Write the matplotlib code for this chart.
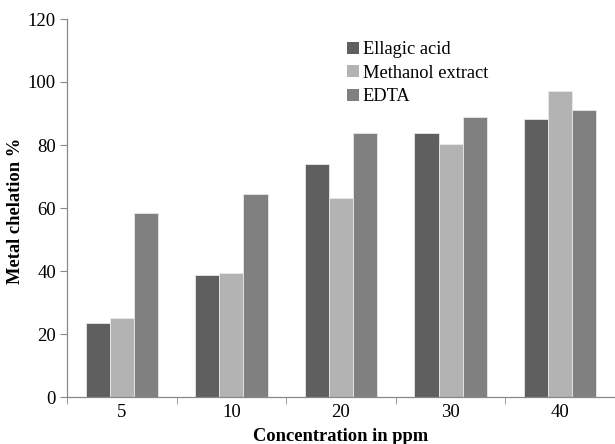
import numpy as np
import matplotlib.pyplot as plt
from matplotlib.patches import Patch

categories = ['5', '10', '20', '30', '40']
ellagic = [23.6, 38.7, 74.0, 83.8, 88.1]
methanol = [25.1, 39.5, 63.2, 80.2, 97.0]
edta = [58.5, 64.4, 83.8, 88.8, 91.1]

series = [('Ellagic acid', ellagic, '#5f5f5f'),
          ('Methanol extract', methanol, '#b3b3b3'),
          ('EDTA', edta, '#808080')]

plt.rcParams['font.family'] = ['Liberation Serif', 'DejaVu Serif']

fig = plt.figure(figsize=(6.15, 4.44), dpi=100)
ax = fig.add_axes([67 / 615, 47 / 444, 548 / 615, 378 / 444])

x = np.arange(len(categories))
w = 0.22
for i, (name, vals, col) in enumerate(series):
    ax.bar(x + (i - 1) * w, vals, w, color=col, edgecolor='#e8e8e8', linewidth=0.6, label=name)

ax.set_xlim(-0.5, 4.5 - 9.5 / 111.5)
ax.set_ylim(0, 120)
ax.set_yticks(range(0, 121, 20))
ax.set_xticks(x)
ax.set_xticklabels(categories)
ax.set_xticks(np.arange(-0.5, 4.6, 1), minor=True)
ax.tick_params(axis='x', which='major', length=0, pad=5, labelsize=13.5)
ax.tick_params(axis='x', which='minor', length=5, color='#888888', direction='out')
ax.tick_params(axis='y', length=5, color='#888888', labelsize=13.5, pad=3)

for s in ['top', 'right']:
    ax.spines[s].set_visible(False)
for s in ['left', 'bottom']:
    ax.spines[s].set_color('#888888')
    ax.spines[s].set_linewidth(0.9)

fig.text(341 / 615, 1 - 436 / 444, 'Concentration in ppm', fontsize=13.3, fontweight='bold',
         ha='center', va='center')
fig.text(16 / 615, 1 - 211 / 444, 'Metal chelation %', fontsize=13.3, fontweight='bold',
         ha='center', va='center', rotation=90)

handles = [Patch(facecolor=c, edgecolor='none') for _, _, c in series]
ax.legend(handles, [n for n, _, _ in series], loc='upper left',
          bbox_to_anchor=(340 / 615, 1 - 34 / 444), bbox_transform=fig.transFigure,
          frameon=False, fontsize=13.2, handlelength=0.65, handleheight=0.65,
          handletextpad=0.2, labelspacing=0.35, borderaxespad=0)

fig.savefig('out.png', dpi=100)
